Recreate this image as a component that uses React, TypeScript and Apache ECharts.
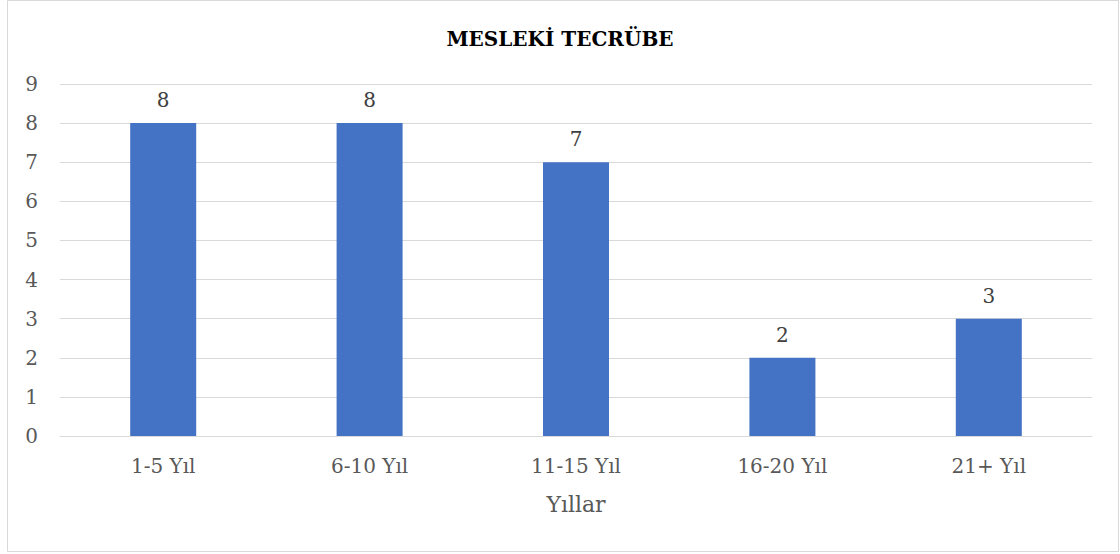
import React, { useEffect, useRef } from "react";
import * as echarts from "echarts";

const categories = ["1-5 Yıl", "6-10 Yıl", "11-15 Yıl", "16-20 Yıl", "21+ Yıl"];
const values = [8, 8, 7, 2, 3];
const titleText = "MESLEKİ TECRÜBE";
const xAxisName = "Yıllar";

const FONT = "'DejaVu Serif', serif";

export default function App() {
  const ref = useRef<HTMLDivElement>(null);
  useEffect(() => {
    document.body.style.margin = "0";
    const chart = echarts.init(ref.current!, null, { renderer: "svg" });
    chart.setOption({
      animation: false,
      backgroundColor: "#ffffff",
      title: {
        text: titleText,
        left: "center",
        top: 24,
        textStyle: { fontFamily: FONT, fontSize: 20, fontWeight: "bold", color: "#000000" },
      },
      graphic: [
        {
          type: "rect",
          shape: { x: 7.5, y: 0.5, width: 1111, height: 551 },
          style: { fill: "none", stroke: "#d9d9d9", lineWidth: 1 },
          silent: true,
        },
      ],
      grid: { left: 60, right: 28, top: 84, bottom: 118 },
      xAxis: {
        type: "category",
        data: categories,
        name: xAxisName,
        nameLocation: "middle",
        nameGap: 57,
        nameTextStyle: { fontFamily: FONT, fontSize: 22, color: "#595959" },
        axisLine: { lineStyle: { color: "#d9d9d9", width: 1 } },
        axisTick: { show: false },
        axisLabel: { fontFamily: FONT, fontSize: 20, color: "#595959", margin: 20 },
      },
      yAxis: {
        type: "value",
        min: 0,
        max: 9,
        interval: 1,
        axisLine: { show: false },
        axisTick: { show: false },
        splitLine: { lineStyle: { color: "#d9d9d9", width: 1 } },
        axisLabel: { fontFamily: FONT, fontSize: 20, color: "#595959", margin: 22, align: "right" },
      },
      series: [
        {
          type: "bar",
          data: values,
          barWidth: 66,
          itemStyle: { color: "#4472C4" },
          label: {
            show: true,
            position: "top",
            distance: 13,
            fontFamily: FONT,
            fontSize: 20,
            color: "#404040",
          },
        },
      ],
    });
    return () => chart.dispose();
  }, []);
  return <div ref={ref} style={{ width: 1120, height: 554 }} />;
}
